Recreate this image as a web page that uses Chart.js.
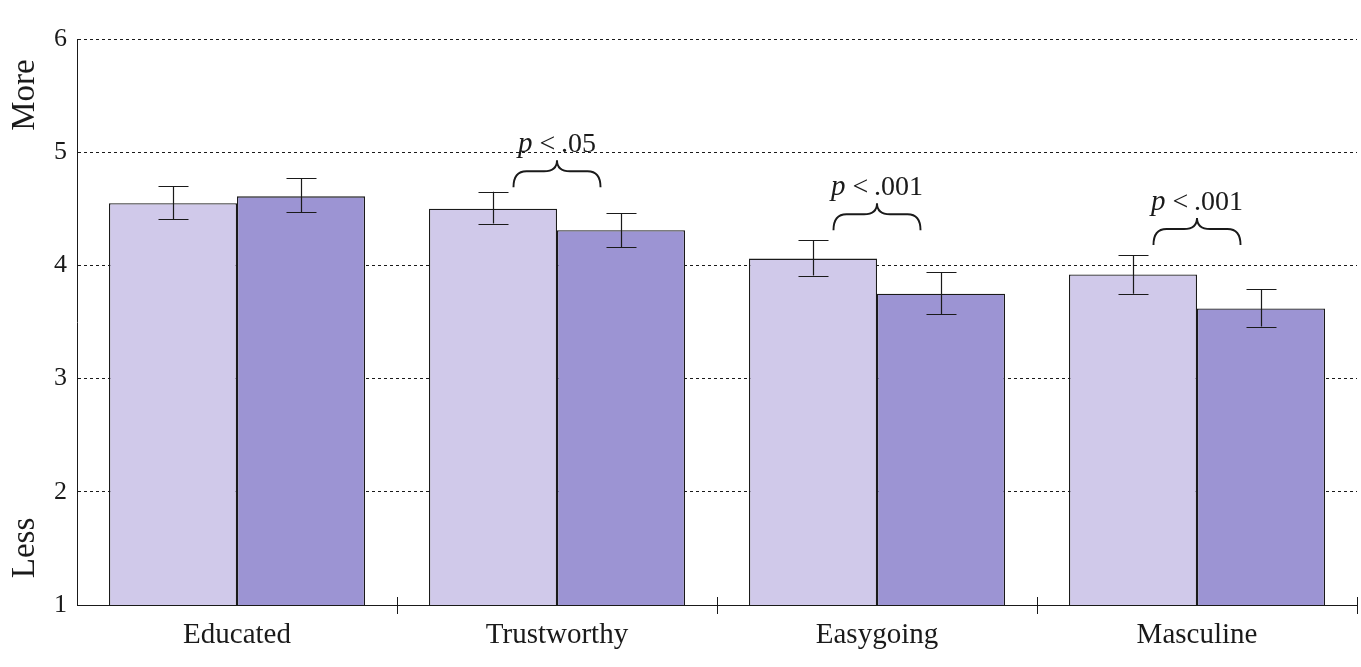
<!DOCTYPE html>
<html>
<head>
<meta charset="utf-8">
<script src="https://cdn.jsdelivr.net/npm/chart.js@4/dist/chart.umd.min.js"></script>
<style>
  html, body { margin: 0; padding: 0; background: #fff; }
  #wrap { width: 1361px; height: 667px; }
</style>
</head>
<body>
<div id="wrap"><canvas id="barChart" width="1361" height="667"></canvas></div>
<script>
// ==================== DATA ====================
const categories = ['Educated', 'Trustworthy', 'Easygoing', 'Masculine'];

// light bars (first condition)
const lightMeans = [4.55, 4.50, 4.06, 3.92];
const lightLow   = [4.41, 4.37, 3.91, 3.75];
const lightHigh  = [4.70, 4.65, 4.22, 4.09];

// dark bars (second condition)
const darkMeans = [4.61, 4.31, 3.75, 3.62];
const darkLow   = [4.47, 4.16, 3.57, 3.46];
const darkHigh  = [4.77, 4.46, 3.94, 3.79];

// significance annotations (null = none)
const pValues    = [null, '.05', '.001', '.001'];
const braceLevel = [null, 4.69, 4.31, 4.18];

const yTicks = [1, 2, 3, 4, 5, 6];

const SERIF = '"Liberation Serif", "DejaVu Serif", serif';
const INK = '#1a1a1a';

// ==================== PLUGINS ====================

// error bars with caps
const errorBars = {
  id: 'errorBars',
  afterDatasetsDraw(chart) {
    const ctx = chart.ctx;
    const y = chart.scales.y;
    const ranges = [[lightLow, lightHigh], [darkLow, darkHigh]];
    ctx.save();
    ctx.strokeStyle = INK;
    ctx.lineWidth = 1.2;
    chart.data.datasets.forEach((ds, di) => {
      const meta = chart.getDatasetMeta(di);
      meta.data.forEach((bar, i) => {
        const lo = y.getPixelForValue(ranges[di][0][i]);
        const hi = y.getPixelForValue(ranges[di][1][i]);
        const x = Math.round(bar.x) + 0.5;
        ctx.beginPath();
        ctx.moveTo(x, lo); ctx.lineTo(x, hi);
        ctx.moveTo(x - 15, Math.round(lo) + 0.5); ctx.lineTo(x + 15, Math.round(lo) + 0.5);
        ctx.moveTo(x - 15, Math.round(hi) + 0.5); ctx.lineTo(x + 15, Math.round(hi) + 0.5);
        ctx.stroke();
      });
    });
    ctx.restore();
  }
};

// curly braces with p-value labels
const sigBraces = {
  id: 'sigBraces',
  afterDatasetsDraw(chart) {
    const ctx = chart.ctx;
    const x = chart.scales.x;
    const y = chart.scales.y;
    const barW = chart.getDatasetMeta(0).data[0].width;
    ctx.save();
    pValues.forEach((p, i) => {
      if (!p) return;
      const xc = x.getPixelForValue(i);
      const half = barW * 0.34;
      const x0 = xc - half, x1 = xc + half;
      const yb = y.getPixelForValue(braceLevel[i]);
      const yh = yb - 16;
      const yt = yb - 27;
      const r = 13;
      ctx.strokeStyle = INK;
      ctx.lineWidth = 1.9;
      ctx.beginPath();
      ctx.moveTo(x0, yb);
      ctx.quadraticCurveTo(x0, yh, x0 + r, yh);
      ctx.lineTo(xc - r, yh);
      ctx.quadraticCurveTo(xc, yh, xc, yt);
      ctx.quadraticCurveTo(xc, yh, xc + r, yh);
      ctx.lineTo(x1 - r, yh);
      ctx.quadraticCurveTo(x1, yh, x1, yb);
      ctx.stroke();

      // label: italic p, roman rest
      const base = yt - 8;
      const italic = 'italic 29px ' + SERIF;
      const roman = '28px ' + SERIF;
      const rest = ' <\u2009' + p;
      ctx.font = italic;
      const wp = ctx.measureText('p').width;
      ctx.font = roman;
      const wr = ctx.measureText(rest).width;
      const start = xc - (wp + wr) / 2;
      ctx.fillStyle = INK;
      ctx.textBaseline = 'alphabetic';
      ctx.textAlign = 'left';
      ctx.font = italic;
      ctx.fillText('p', start, base);
      ctx.font = roman;
      ctx.fillText(rest, start + wp, base);
    });
    ctx.restore();
  }
};

// category boundary ticks and the More / Less axis words
const axisExtras = {
  id: 'axisExtras',
  afterDraw(chart) {
    const ctx = chart.ctx;
    const x = chart.scales.x;
    const area = chart.chartArea;
    const half = (x.getPixelForValue(1) - x.getPixelForValue(0)) / 2;
    ctx.save();
    ctx.strokeStyle = INK;
    ctx.lineWidth = 1;
    categories.forEach((c, i) => {
      const bx = Math.round(x.getPixelForValue(i) + half) + 0.5;
      ctx.beginPath();
      ctx.moveTo(bx, area.bottom - 8);
      ctx.lineTo(bx, area.bottom + 9);
      ctx.stroke();
    });

    ctx.fillStyle = INK;
    ctx.font = '33px ' + SERIF;
    ctx.textAlign = 'center';
    ctx.textBaseline = 'middle';
    ctx.translate(25, 0);
    ctx.rotate(-Math.PI / 2);
    ctx.fillText('More', -95, 0);
    ctx.fillText('Less', -548, 0);
    ctx.restore();
  }
};

// ==================== CHART ====================
const ctx = document.getElementById('barChart').getContext('2d');
const chartInstance = new Chart(ctx, {
  type: 'bar',
  data: {
    labels: categories,
    datasets: [
      {
        label: 'Condition A',
        data: lightMeans,
        backgroundColor: '#d0c9ea',
        borderColor: INK,
        borderWidth: 1.3,
        borderSkipped: 'start',
        categoryPercentage: 0.8,
        barPercentage: 1.0
      },
      {
        label: 'Condition B',
        data: darkMeans,
        backgroundColor: '#9c94d3',
        borderColor: INK,
        borderWidth: 1.3,
        borderSkipped: 'start',
        categoryPercentage: 0.8,
        barPercentage: 1.0
      }
    ]
  },
  options: {
    responsive: false,
    animation: false,
    layout: { padding: { top: 39, right: 4, left: 0, bottom: 0 } },
    plugins: {
      legend: { display: false },
      tooltip: { enabled: false }
    },
    scales: {
      x: {
        grid: { display: false, drawTicks: false },
        border: { display: true, color: INK, width: 1 },
        ticks: { color: INK, padding: 13, font: { family: SERIF, size: 29 } },
        afterFit(scale) { scale.height = 62; }
      },
      y: {
        min: 1,
        max: 6,
        afterBuildTicks(scale) { scale.ticks = yTicks.map(v => ({ value: v })); },
        grid: {
          color: (c) => (c.tick && c.tick.value === 1 ? 'rgba(0,0,0,0)' : INK),
          lineWidth: 1,
          drawTicks: false
        },
        border: { display: true, color: INK, width: 1, dash: [3, 3] },
        ticks: { color: INK, padding: 10, font: { family: SERIF, size: 26 } },
        afterFit(scale) { scale.width = 77; }
      }
    }
  },
  plugins: [errorBars, sigBraces, axisExtras]
});
</script>
</body>
</html>
